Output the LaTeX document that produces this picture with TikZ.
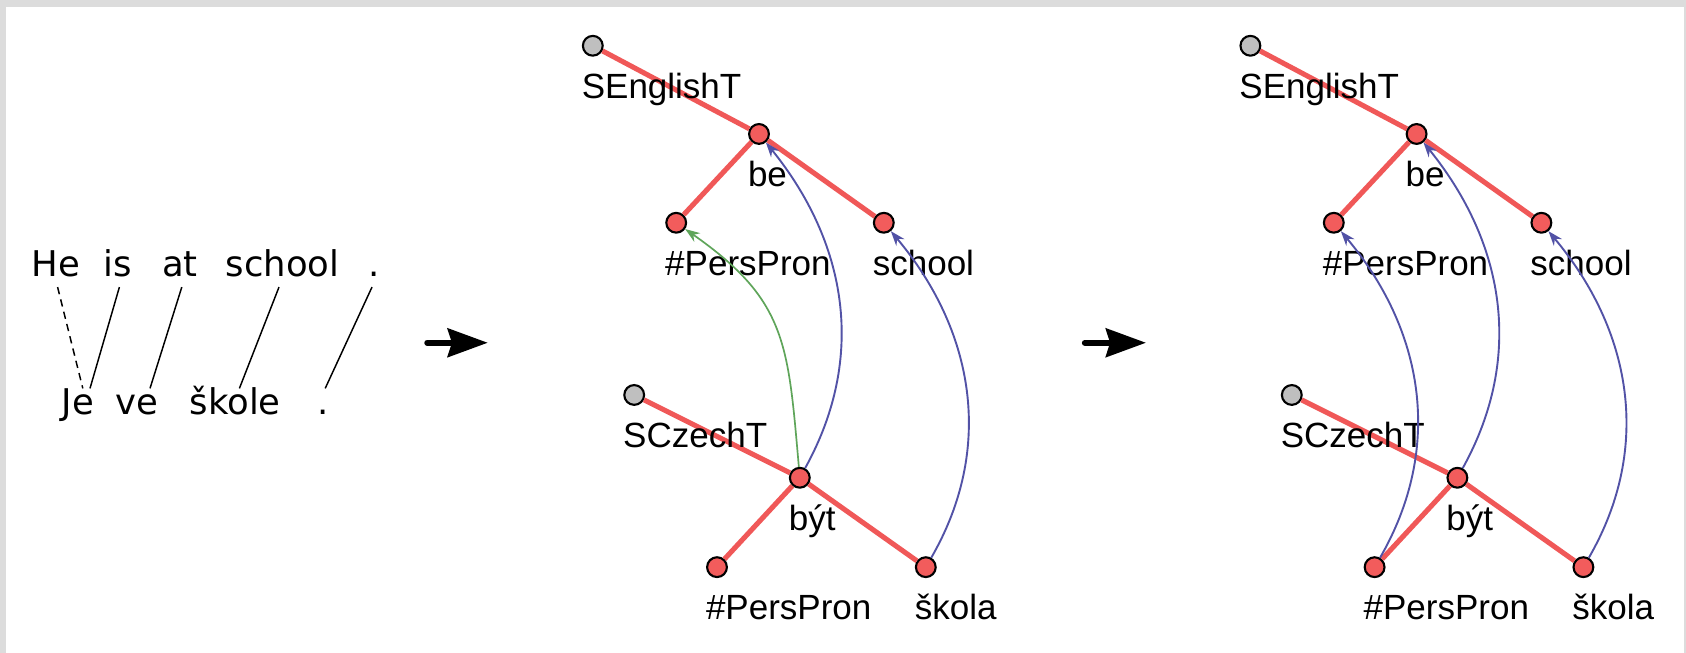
\documentclass[tikz,border=0pt]{standalone}
\usepackage{fontspec}
\setmainfont{DejaVu Sans}
\newfontfamily\helv{Liberation Sans}
\usetikzlibrary{arrows.meta}
\definecolor{Frame}{HTML}{DCDCDC}
\definecolor{Node}{HTML}{F25C5C}
\definecolor{Edge}{HTML}{F05858}
\definecolor{Root}{HTML}{BFBFBF}
\definecolor{Link}{HTML}{5252A6}
\definecolor{Leaf}{HTML}{5FA55A}

\begin{document}
\begin{tikzpicture}[word/.style={font=\fontsize{16.8}{20}\selectfont,inner sep=0pt,anchor=base,text height=12.3pt,text depth=4.7pt},wlink/.style={line width=0.7pt},
tn/.style={circle,draw=black,line width=1pt,fill=Node,minimum size=0.33cm,inner sep=0pt},root/.style={tn,fill=Root},edge/.style={draw=Edge,line width=2.4pt},
lab/.style={font=\helv\fontsize{16.6}{20}\selectfont,inner sep=0pt,anchor=base west},
align/.style={draw=Link,line width=0.9pt,-{Stealth[length=7pt,width=5pt]}},big/.style={line width=2.8pt,line cap=round,-{Stealth[length=19pt,width=13.5pt,inset=2pt]}}]
\fill[Frame] (0,0) rectangle (28.1,10.883);\fill[white] (0.1,0) rectangle (28.07,10.767);

% word alignment of the two sentences
\node[word] (eHe) at (0.93,6.27){He};\node[word] (eIs) at (1.96,6.27){is};\node[word] (eAt) at (3,6.27){at};\node[word] (eSchool) at (4.71,6.27){school};\node[word] (eDot) at (6.24,6.27){.};
\node[word] (cJe) at (1.3,3.97){Je};\node[word] (cVe) at (2.28,3.97){ve};\node[word] (cSkole) at (3.92,3.97){škole};\node[word] (cDot) at (5.38,3.97){.};
\draw[wlink,dash pattern=on 3.5pt off 2.5pt] ([xshift=0.03cm]eHe.south)--([xshift=0.08cm]cJe.north);
\draw[wlink] ([xshift=0.03cm]eIs.south)--([xshift=0.2cm]cJe.north);\draw[wlink] ([xshift=0.03cm]eAt.south)--([xshift=0.22cm]cVe.north);
\draw[wlink] ([xshift=-0.06cm]eSchool.south)--([xshift=0.07cm]cSkole.north);\draw[wlink] ([xshift=-0.04cm]eDot.south)--([xshift=0.04cm]cDot.north);

\coordinate (p1) at (7.12,5.17);\coordinate (q1) at (8.13,5.17);\draw[big] (p1)--(q1);
\coordinate (p2) at (18.08,5.17);\coordinate (q2) at (19.1,5.17);\draw[big] (p2)--(q2);

% the two tree pairs, English on top, Czech below
\foreach \t/\dx in {L/0,R/10.96}{
\node[root] (\t-SE) at (9.88+\dx,10.12){};\node[tn] (\t-be) at (12.65+\dx,8.65){};\node[tn] (\t-ppE) at (11.27+\dx,7.17){};\node[tn] (\t-school) at (14.73+\dx,7.17){};
\node[root] (\t-SC) at (10.57+\dx,4.3){};\node[tn] (\t-byt) at (13.33+\dx,2.92){};\node[tn] (\t-ppC) at (11.95+\dx,1.43){};\node[tn] (\t-skola) at (15.43+\dx,1.43){};
\draw[edge] (\t-SE)--(\t-be);\draw[edge] (\t-be)--(\t-ppE);\draw[edge] (\t-be)--(\t-school);
\draw[edge] (\t-SC)--(\t-byt);\draw[edge] (\t-byt)--(\t-ppC);\draw[edge] (\t-byt)--(\t-skola);
\node[lab] (\t-SEt) at (9.69+\dx,9.245){SEnglishT};\node[lab] (\t-bet) at (12.46+\dx,7.775){be};\node[lab] (\t-ppEt) at (11.08+\dx,6.295){\#PersPron};\node[lab] (\t-schoolt) at (14.54+\dx,6.295){school};
\node[lab] (\t-SCt) at (10.38+\dx,3.425){SCzechT};\node[lab] (\t-bytt) at (13.14+\dx,2.045){být};\node[lab] (\t-ppCt) at (11.76+\dx,0.555){\#PersPron};\node[lab] (\t-skolat) at (15.24+\dx,0.555){škola};
}

% node alignment
\draw[align,draw=Leaf,line width=0.8pt] (L-byt) to[out=95,in=-35,looseness=1.2] (L-ppE);
\draw[align] (L-byt) to[out=61,in=-51] (L-be);\draw[align] (L-skola) to[out=60,in=-50] (L-school);
\draw[align] (R-ppC) to[out=60,in=-50] (R-ppE);\draw[align] (R-byt) to[out=61,in=-51] (R-be);\draw[align] (R-skola) to[out=60,in=-50] (R-school);
\end{tikzpicture}
\end{document}
